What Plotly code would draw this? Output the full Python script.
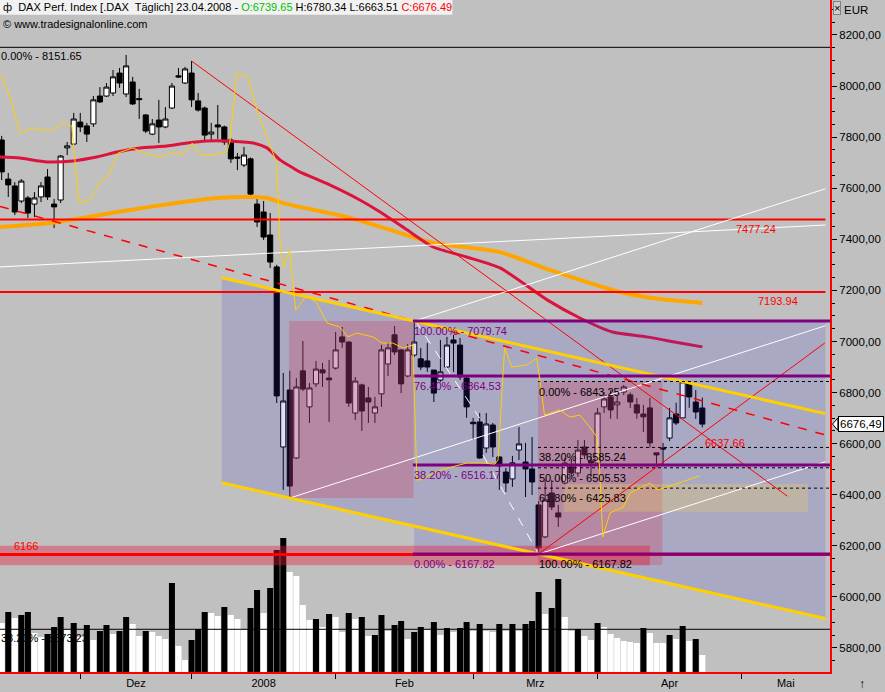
import plotly.graph_objects as go
import pandas as pd

FONT = "Liberation Sans"

# ---------------- calendar ----------------
first_day = "2007-11-15"
last_day = "2008-05-30"
holidays = ["2007-12-24", "2007-12-25", "2007-12-26", "2007-12-31",
            "2008-01-01", "2008-03-21", "2008-03-24", "2008-05-01"]
month_labels = ["Dez", "2008", "Feb", "Mrz", "Apr", "Mai"]

# ---------------- DAX daily OHLC 15.11.2007 - 23.04.2008 ----------------
opens = [7789, 7636, 7609, 7550, 7562, 7538, 7566, 7644, 7538, 7554,
         7758, 7773, 7859, 7844, 7852, 7961, 7961, 7973, 8051, 7969,
         8016, 7951, 7887, 7812, 7867, 7840, 7914, 8040, 8012, 8051,
         7942, 7914, 7812, 7848, 7840, 7789, 7722, 7691, 7715, 7538,
         7507, 7417, 7292, 6587, 6810, 6544, 6885, 6744, 6834, 6889,
         6857, 6896, 7018, 6998, 6720, 6830, 6779, 6720, 6795, 6912,
         7026, 6967, 6865, 6947, 6932, 6924, 6888, 6849, 6900, 7006,
         6986, 6857, 6684, 6685, 6583, 6673, 6548, 6489, 6462, 6575,
         6528, 6501, 6360, 6235, 6407, 6329, 6446, 6509, 6485, 6587,
         6532, 6524, 6744, 6783, 6752, 6802, 6791, 6752, 6716, 6740,
         6564, 6583, 6622, 6716, 6701, 6838, 6763, 6739.65]
highs = [7805, 7660, 7624, 7636, 7570, 7585, 7624, 7675, 7558, 7730,
         7781, 7895, 7895, 7856, 7961, 7996, 8012, 8063, 8071, 8122,
         8036, 7989, 7890, 7871, 7946, 7918, 8012, 8071, 8075, 8098,
         7973, 7920, 7856, 7926, 7845, 7797, 7738, 7762, 7720, 7558,
         7550, 7503, 7300, 6877, 6885, 6857, 7002, 6838, 6924, 6916,
         6928, 7037, 7057, 7000, 6861, 6835, 6822, 6783, 6987, 6998,
         7061, 6970, 6990, 7079.74, 6975, 6994, 6890, 7006, 7018, 7026,
         7014, 6861, 6701, 6720, 6720, 6681, 6550, 6505, 6552, 6665,
         6603, 6626, 6376, 6458, 6458, 6360, 6544, 6540, 6614, 6614,
         6560, 6740, 6802, 6810, 6790, 6830, 6800, 6779, 6752, 6779,
         6564, 6603, 6740, 6760, 6843.25, 6842, 6810, 6780.34]
lows = [7632, 7566, 7495, 7542, 7484, 7487, 7546, 7554, 7444, 7542,
        7730, 7769, 7820, 7781, 7840, 7934, 7957, 7961, 7993, 7957,
        7926, 7871, 7816, 7808, 7777, 7835, 7910, 8032, 8008, 7918,
        7900, 7789, 7789, 7793, 7770, 7699, 7671, 7683, 7570, 7448,
        7397, 7288, 6759, 6419, 6387, 6540, 6806, 6681, 6822, 6822,
        6685, 6890, 6975, 6744, 6693, 6650, 6681, 6681, 6744, 6865,
        6947, 6798, 6860, 6940, 6888, 6881, 6763, 6842, 6896, 6881,
        6849, 6701, 6614, 6540, 6564, 6548, 6419, 6411, 6431, 6536,
        6391, 6399, 6167.82, 6230, 6340, 6274, 6438, 6470, 6470, 6540,
        6470, 6520, 6720, 6697, 6697, 6790, 6740, 6697, 6646, 6585,
        6517, 6517, 6610, 6673, 6701, 6740, 6697, 6663.51]
closes = [7664, 7613, 7507, 7628, 7503, 7562, 7609, 7566, 7527, 7726,
          7766, 7871, 7840, 7812, 7946, 7938, 7996, 8036, 8012, 8079,
          7930, 7947, 7824, 7852, 7840, 7871, 8000, 8036, 8067, 7946,
          7906, 7808, 7820, 7840, 7781, 7715, 7718, 7730, 7577, 7468,
          7409, 7311, 6787, 6767, 6434, 6822, 6814, 6818, 6892, 6877,
          6850, 6967, 6998, 6759, 6845, 6728, 6763, 6744, 6967, 6975,
          6959, 6834, 6967, 6998, 6900, 6900, 6798, 6881, 6986, 6994,
          6861, 6744, 6678, 6544, 6677, 6587, 6513, 6446, 6525, 6599,
          6501, 6450, 6192, 6380, 6352, 6313, 6524, 6485, 6575, 6556,
          6524, 6720, 6775, 6732, 6763, 6822, 6763, 6720, 6705, 6603,
          6556, 6579, 6701, 6681, 6842, 6783, 6724, 6676.49]

volumes = [98, 120, 108, 114, 120, 78, 70, 76, 90, 110,
           84, 98, 70, 94, 64, 82, 94, 76, 82, 110,
           96, 72, 82, 80, 72, 66, 178, 52, 24, 64,
           86, 120, 118, 112, 130, 114, 106, 84, 128, 164,
           118, 168, 244, 268, 200, 192, 134, 104, 106, 90,
           116, 110, 80, 118, 106, 110, 72, 74, 114, 82,
           94, 102, 66, 80, 90, 84, 100, 74, 88, 80,
           88, 100, 82, 96, 82, 80, 96, 82, 96, 82,
           96, 102, 160, 116, 128, 186, 110, 82, 86, 72,
           64, 98, 90, 76, 68, 62, 60, 58, 88, 78,
           58, 58, 74, 66, 92, 62, 66, 34]
volume_colors = ("WBWBBWWBBB" "WBWBWBBWBB" "WWBWWWBWWB" "BBWWBWWWBB"
                 "WBBBWWWWBW" "BWWBWBWBBW" "BBWBBWBWBW" "BBWBWWBWBW"
                 "BBBWBBWWBW" "WBWWWWWWBW" "WWBWBWBW")

# moving averages
ma_red_x = [-0.26, 2.8, 6.9, 10.9, 14.5, 17.6, 21.1, 25.2, 28.3, 31.3, 34.4, 38.4,
            40.5, 42.5, 44.5, 45.5, 50.1, 54.7, 57.8, 61.9, 65.9, 71, 76.1, 83.3,
            88.3, 93.3, 98.5, 103.6, 107]
ma_red_y = [7722, 7718, 7703, 7707, 7722, 7742, 7758, 7765, 7777, 7785, 7785, 7777,
            7758, 7711, 7679, 7664, 7613, 7554, 7507, 7437, 7370, 7331, 7288, 7163,
            7092, 7037, 7018, 6994, 6979]
ma_orange_x = [-0.26, 7.4, 12.4, 17.6, 22.6, 27.7, 32.9, 37.9, 40.5, 43, 45.5, 53.2,
               59.3, 65.9, 76.1, 83.7, 94.4, 100.5, 107]
ma_orange_y = [7448, 7464, 7484, 7507, 7527, 7546, 7562, 7566, 7562, 7542, 7527, 7484,
               7437, 7386, 7350, 7280, 7194, 7166, 7151]

# thin gold indicator line
gold_x = [0, 1.5, 2.8, 4.8, 7.4, 9.4, 10.7, 11.8, 13.5, 15, 16.1, 17.8, 20, 22.2, 24.2,
          26.2, 27.7, 29.1, 30.3, 32.3, 34.4, 34.9, 35.9, 37.6, 39, 40.5, 42, 42.5, 43, 44,
          44.3, 44.9, 46.6, 48.1, 49.7, 51.6, 52.9, 54.2, 56.7, 58.1, 59.7, 61.3, 62.8,
          63.4, 63.9, 67, 71, 73.5, 75.3, 75.8, 76.8, 77.9, 80.2, 81.7, 82.2, 82.9, 85.2,
          86.8, 88.3, 89.8, 90.9, 91.3, 91.8, 92.9, 94.9, 96, 99, 100.1, 102.5, 106.6]
gold_y = [8043, 7938, 7816, 7836, 7824, 7855, 7844, 7542, 7554, 7624, 7644, 7738, 7758,
          7734, 7722, 7742, 7730, 7777, 7730, 7730, 7742, 7789, 8051, 8036, 7906, 7801,
          7699, 7397, 7292, 7358, 7268, 7123, 7182, 7151, 7072, 7057, 7018, 7033, 7018,
          6994, 6994, 6975, 6986, 6458, 6458, 6497, 6524, 6524, 6520, 6536, 6975, 6900,
          6908, 6935, 6849, 6712, 6732, 6704, 6712, 6665, 6626, 6509, 6235, 6329, 6352,
          6407, 6446, 6419, 6438, 6474]

# drawing tools
fib1_start = 62.8
fib1_levels = [7079.74, 6864.53, 6516.17, 6167.82]
fib1_labels = ["100.00% - 7079.74", "76.40% - 6864.53", "38.20% - 6516.17", "0.00% - 6167.82"]
fib2_start = 81.9
fib2_levels = [6843.25, 6585.24, 6505.53, 6425.83, 6167.82]
fib2_labels = ["0.00% - 6843.25", "38.20% - 6585.24", "50.00% - 6505.53",
               "61.80% - 6425.83", "100.00% - 6167.82"]
long_fib_levels = [8151.65, 5873.23]
long_fib_labels = ["0.00% - 8151.65", "38.20% - 5873.23"]
red_levels = [7477.24, 7193.94]
red_level_label_x = [112.0, 115.3]
support_level = 6166
support_band = (6124, 6200)
support_band_end = 99.0

channel_start, channel_end = 33.6, 125.8
channel_low_a = (44, 6387.0)
channel_low_b = (82, 6167.82)
channel_high = (63, 7079.74)

pink_boxes = [(43.9, 62.9, 6387.0, 7079.74), (81.9, 100.9, 6125.0, 6843.25)]
tan_box = (85.8, 123.1, 6333.0, 6442.0)

flat_white = ((-0.26, 7292.0), (125.8, 7456.0))
parallel_slope = 8.25
parallel_anchors = [(44, 6387.0), (82, 6167.82), (63, 7079.74)]
down_trend = ((29, 8098.0), (107, 6637.66))
down_trend_end = 120.0
up_trend = ((82, 6167.82), (125.7, 6994.0))
dashed_trend = ((-0.26, 7529.0), (125.8, 6634.0))
zigzag = [[(63.2, 7079.74), (73.0, 6700.0)], [(73.5, 6555.0), (82.0, 6167.82)]]

last_close = closes[-1]

# ---------------- derived ----------------
days = pd.bdate_range(first_day, last_day)
days = days[~days.isin(pd.to_datetime(holidays))]
idx = list(range(len(opens)))
month_starts = [i for i in range(1, len(days)) if days[i].month != days[i - 1].month][:len(month_labels)]

X0, X1 = -0.26, 126.5
Y0, Y1 = 5706, 8337
label_pos = [(month_starts[i] + month_starts[i + 1]) / 2 for i in range(len(month_starts) - 1)]
label_pos.append((month_starts[-1] + X1) / 2)

ch_slope = (channel_low_b[1] - channel_low_a[1]) / (channel_low_b[0] - channel_low_a[0])
def ch_top(k):
    return channel_high[1] + ch_slope * (k - channel_high[0])
def ch_bot(k):
    return channel_low_a[1] + ch_slope * (k - channel_low_a[0])

def path(pts, close=False):
    s = "M " + " L ".join(f"{x},{y}" for x, y in pts)
    return s + (" Z" if close else "")

shapes = []
def seg(x0, y0, x1, y1, color, width=1, dash="solid", xref="x"):
    shapes.append(dict(type="line", xref=xref, yref="y", x0=x0, y0=y0, x1=x1, y1=y1,
                       line=dict(color=color, width=width, dash=dash), layer="above"))
def rect(x0, x1, y0, y1, fill, xref="x"):
    shapes.append(dict(type="rect", xref=xref, yref="y", x0=x0, x1=x1, y0=y0, y1=y1,
                       fillcolor=fill, line=dict(width=0), layer="above"))

# header strip
shapes.append(dict(type="rect", xref="paper", yref="paper", x0=0, x1=0.545, y0=0.978, y1=1.0,
                   fillcolor="#f2f2f2", line=dict(width=0), layer="above"))

# blue channel + fib area (union)
f_top = fib1_levels[0]
f_bot = fib1_levels[-1]
union = [(channel_start, ch_top(channel_start)), (channel_high[0], f_top), (channel_end, f_top),
         (channel_end, ch_bot(channel_end)), (channel_low_b[0], f_bot), (channel_high[0], f_bot),
         (channel_high[0], ch_bot(channel_high[0])), (channel_start, ch_bot(channel_start))]
shapes.append(dict(type="path", xref="x", yref="y", path=path(union, True),
                   fillcolor="rgba(40,40,220,0.15)", line=dict(width=0), layer="above"))
for b in pink_boxes:
    rect(b[0], b[1], b[2], b[3], "rgba(210,60,90,0.30)")
rect(X0, support_band_end, support_band[0], support_band[1], "rgba(230,30,60,0.40)")
rect(tan_box[0], tan_box[1], tan_box[2], tan_box[3], "rgba(230,200,110,0.35)")

# long fib lines
for lv in long_fib_levels:
    seg(X0, lv, X1, lv, "black", 1)
# red horizontal levels
for lv in red_levels:
    seg(X0, lv, channel_end, lv, "#ff0000", 2)
seg(X0, support_level, X1, support_level, "#ff0000", 3)

# white lines
seg(flat_white[0][0], flat_white[0][1], flat_white[1][0], flat_white[1][1], "white", 1)
for k, v in parallel_anchors:
    seg(k, v, channel_end, v + parallel_slope * (channel_end - k), "white", 1)
# red trend lines
dt_slope = (down_trend[1][1] - down_trend[0][1]) / (down_trend[1][0] - down_trend[0][0])
seg(down_trend[0][0], down_trend[0][1], down_trend_end,
    down_trend[0][1] + dt_slope * (down_trend_end - down_trend[0][0]), "#ff0000", 1)
seg(up_trend[0][0], up_trend[0][1], up_trend[1][0], up_trend[1][1], "#ff0000", 1)
seg(dashed_trend[0][0], dashed_trend[0][1], dashed_trend[1][0], dashed_trend[1][1], "#ff0000", 1.5, "dash")
for zz in zigzag:
    seg(zz[0][0], zz[0][1], zz[1][0], zz[1][1], "white", 1, "dash")
# gold channel
seg(channel_start, ch_top(channel_start), channel_end, ch_top(channel_end), "#ffd000", 3)
seg(channel_start, ch_bot(channel_start), channel_end, ch_bot(channel_end), "#ffd000", 3)
# fib lines
for lv in fib1_levels:
    seg(fib1_start, lv, X1, lv, "#800080", 3)
for lv in fib2_levels[:-1]:
    seg(fib2_start, lv, X1, lv, "black", 1, "dot")
# gold thin line
shapes.append(dict(type="path", xref="x", yref="y", path=path(list(zip(gold_x, gold_y))),
                   line=dict(color="#ffd000", width=1), layer="above"))

# price marker tip on axis
shapes.append(dict(type="path", xref="paper", yref="y",
                   path=path([(1.003, last_close), (1.0095, last_close + 24), (1.0095, last_close - 24)], True),
                   fillcolor="white", line=dict(color="black", width=1), layer="above"))

# ---------------- annotations ----------------
ann = []
def label(x, y, text, color="black", xref="x", yref="y", xanchor="left", yanchor="top",
          yshift=0, size=11, **kw):
    d = dict(x=x, y=y, xref=xref, yref=yref, text=text, showarrow=False, xanchor=xanchor,
             yanchor=yanchor, yshift=yshift, font=dict(color=color, size=size, family=FONT),
             borderpad=0)
    d.update(kw)
    ann.append(d)

header = ("\u0444\u00a0 DAX Perf. Index [.DAX\u00a0 Täglich] 23.04.2008 - "
          "<span style='color:#00c000'>O:6739.65</span> H:6780.34 L:6663.51 "
          "<span style='color:#ff0000'>C:6676.49</span>")
label(0.002, 1.0, header, xref="paper", yref="paper", yshift=0)
label(0.002, 0.975, "© www.tradesignalonline.com", xref="paper", yref="paper")
label(1.016, 0.996, "EUR", xref="paper", yref="paper", size=11.5)
label(1.0035, 0.999, "×", xref="paper", yref="paper", size=11, bgcolor="#cfcfcf",
      bordercolor="#808080", borderwidth=1)
label(1.0385, -0.0298, "↑", xref="paper", yref="paper", yanchor="bottom", xanchor="center", size=12)

for lv, tx in zip(long_fib_levels, long_fib_labels):
    label(0.0, lv, tx, xref="paper", yshift=-2)
for lv, tx in zip(fib1_levels, fib1_labels):
    label(fib1_start, lv, tx, "#800080", yshift=-3)
for lv, tx in zip(fib2_levels, fib2_labels):
    label(fib2_start, lv, tx, "black", yshift=-3)
for lv, lx in zip(red_levels, red_level_label_x):
    label(lx, lv, f"{lv:.2f}", "#ff0000", yshift=-2)
label(down_trend[1][0] + 0.3, down_trend[1][1], f"{down_trend[1][1]:.2f}", "#ff0000", yshift=-2)
label(1.75, support_level, str(support_level), "#ff0000", yanchor="bottom", yshift=2)
label(1.0095, last_close, f"{last_close:.2f}".replace(".", ","), xref="paper", yanchor="middle",
      size=11.5, bgcolor="white", bordercolor="black", borderwidth=1, borderpad=1)

# ---------------- figure ----------------
fig = go.Figure()
fig.add_trace(go.Bar(x=idx, y=volumes, yaxis="y2",
                     marker=dict(color=["white" if c == "W" else "black" for c in volume_colors],
                                 line=dict(width=0)),
                     hoverinfo="skip", showlegend=False))
fig.add_trace(go.Candlestick(x=idx, open=opens, high=highs, low=lows, close=closes,
                             increasing=dict(line=dict(color="black", width=1), fillcolor="white"),
                             decreasing=dict(line=dict(color="black", width=1), fillcolor="black"),
                             whiskerwidth=0, showlegend=False, hoverinfo="skip"))
fig.add_trace(go.Scatter(x=ma_orange_x, y=ma_orange_y, mode="lines",
                         line=dict(color="#ffa500", width=4, shape="spline", smoothing=0.6),
                         hoverinfo="skip", showlegend=False))
fig.add_trace(go.Scatter(x=ma_red_x, y=ma_red_y, mode="lines",
                         line=dict(color="#dc143c", width=3, shape="spline", smoothing=0.6),
                         hoverinfo="skip", showlegend=False))

fig.update_layout(
    width=885, height=692,
    margin=dict(l=0, r=55, t=0, b=20, autoexpand=False),
    paper_bgcolor="#c0c0c0", plot_bgcolor="#c0c0c0",
    font=dict(family=FONT, size=11, color="black"),
    separators=",.",
    bargap=0.08, boxgap=0.22, boxgroupgap=0,
    showlegend=False,
    shapes=shapes, annotations=ann,
    xaxis=dict(range=[X0, X1], showgrid=False, zeroline=False, showline=True,
               linecolor="#ff0000", linewidth=2, tickmode="array", tickvals=label_pos,
               ticktext=month_labels, ticks="", tickfont=dict(size=11), automargin=False,
               minor=dict(tickmode="array", tickvals=month_starts, ticks="outside", ticklen=5,
                          tickcolor="black", tickwidth=1, showgrid=False),
               rangeslider=dict(visible=False), fixedrange=True),
    yaxis=dict(range=[Y0, Y1], side="right", showgrid=False, zeroline=False, showline=True,
               linecolor="#ff0000", linewidth=2, tickmode="linear", tick0=5800, dtick=200,
               tickformat=".2f", ticks="outside", ticklen=5, tickcolor="black", tickwidth=1,
               tickfont=dict(size=11.5), automargin=False,
               minor=dict(dtick=50, ticks="outside", ticklen=3, tickcolor="black", tickwidth=1,
                          showgrid=False),
               fixedrange=True),
    yaxis2=dict(range=[0, 1344], overlaying="y", visible=False, fixedrange=True),
)

fig.write_html("out.html", config={"displayModeBar": False},
               post_script="document.body.style.margin='0px';document.body.style.overflow='hidden';")
